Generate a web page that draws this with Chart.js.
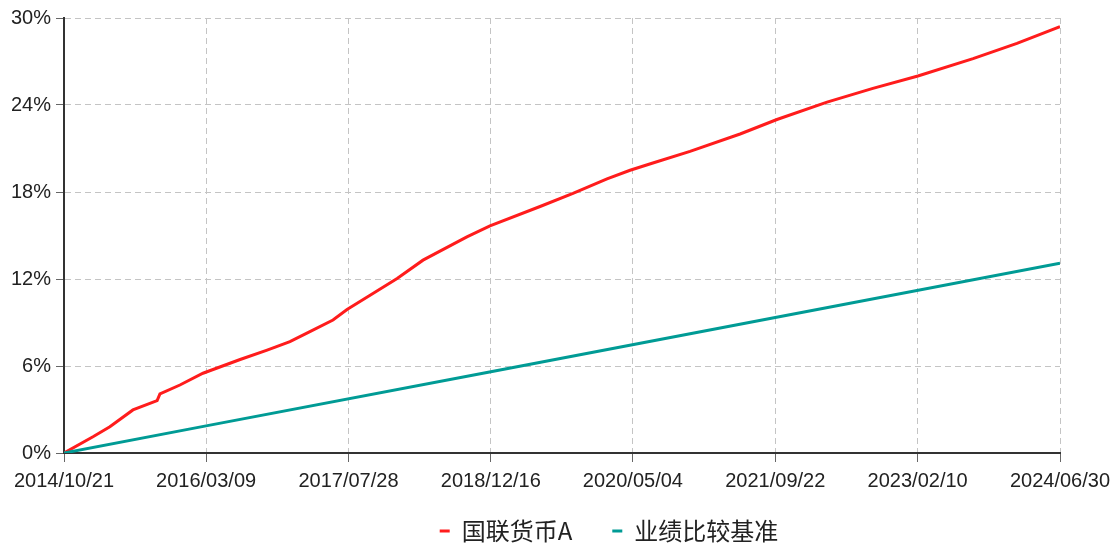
<!DOCTYPE html>
<html>
<head>
<meta charset="utf-8">
<script src="https://cdn.jsdelivr.net/npm/chart.js@4/dist/chart.umd.min.js"></script>
<style>
  html, body { margin: 0; padding: 0; background: #fff; overflow: hidden; }
  #nav-chart { display: block; }
</style>
</head>
<body>
<canvas id="nav-chart" width="1120" height="550"></canvas>
<script>
// 数据
const startDate = '2014/10/21';
const xTickLabels = ['2014/10/21', '2016/03/09', '2017/07/28', '2018/12/16', '2020/05/04', '2021/09/22', '2023/02/10', '2024/06/30'];
const yTickValues = [0, 6, 12, 18, 24, 30];

const fundName = '国联货币A';
const fundDates = ['2014/10/21', '2015/02/01', '2015/04/02', '2015/06/23', '2015/09/17', '2015/09/27', '2015/12/07', '2016/02/27',
    '2016/07/08', '2016/10/12', '2017/01/01', '2017/03/13', '2017/06/03', '2017/07/23', '2017/10/23', '2018/01/17',
    '2018/04/19', '2018/09/22', '2018/12/13', '2019/06/09', '2019/10/04', '2020/02/02', '2020/04/24', '2020/07/14',
    '2020/11/23', '2021/05/20', '2021/09/28', '2022/03/25', '2022/09/04', '2023/02/11', '2023/08/26', '2024/01/29',
    '2024/06/30'];
const fundValues = [0, 1.12, 1.81, 2.97, 3.61, 4.07, 4.69, 5.5,
    6.45, 7.1, 7.68, 8.37, 9.17, 9.9, 11.0, 12.04,
    13.3, 14.9, 15.66, 17.0, 17.9, 18.9, 19.5, 20.0,
    20.8, 22.0, 23.0, 24.2, 25.15, 26.0, 27.2, 28.25,
    29.4];

const benchName = '业绩比较基准';
const benchDates = ['2014/10/21', '2016/03/09', '2018/12/16', '2021/09/22', '2024/06/30'];
const benchValues = [0, 1.87, 5.6, 9.35, 13.08];

// 日期转为距起始日的天数
function toDays(str) {
    const p = str.split('/').map(Number);
    const s = startDate.split('/').map(Number);
    return (Date.UTC(p[0], p[1] - 1, p[2]) - Date.UTC(s[0], s[1] - 1, s[2])) / 86400000;
}

const xTickDays = xTickLabels.map(toDays);
const fundPoints = fundDates.map((d, i) => ({ x: toDays(d), y: fundValues[i] }));
const benchPoints = benchDates.map((d, i) => ({ x: toDays(d), y: benchValues[i] }));

const tickFont = { family: '"Liberation Sans", Arial, sans-serif', size: 20 };
const gridColor = '#c4c4c4';
const axisColor = '#333333';

// 图例位置微调
const legendShift = {
    id: 'legendShift',
    afterLayout(chart) {
        chart.legend.left += 158;
        chart.legend.top -= 29;
        chart.legend.bottom = chart.height;
    }
};

const ctx = document.getElementById('nav-chart').getContext('2d');
new Chart(ctx, {
    type: 'line',
    data: {
        datasets: [{
            label: fundName,
            data: fundPoints,
            borderColor: '#ff1c1c',
            backgroundColor: '#ff1c1c',
            borderWidth: 3,
            pointRadius: 0,
            tension: 0,
            order: 2
        }, {
            label: benchName,
            data: benchPoints,
            borderColor: '#009b95',
            backgroundColor: '#009b95',
            borderWidth: 3,
            pointRadius: 0,
            tension: 0,
            order: 1
        }]
    },
    options: {
        responsive: false,
        animation: false,
        devicePixelRatio: 1,
        layout: { padding: { top: 18, right: 60, left: 0, bottom: 0 } },
        scales: {
            x: {
                type: 'linear',
                min: xTickDays[0],
                max: xTickDays[xTickDays.length - 1],
                afterBuildTicks: function(scale) {
                    scale.ticks = xTickDays.map(v => ({ value: v }));
                },
                afterFit: function(scale) { scale.height = 55; },
                ticks: {
                    autoSkip: false,
                    maxRotation: 0,
                    font: tickFont,
                    color: '#222',
                    padding: 7,
                    callback: function(value, index) { return xTickLabels[index]; }
                },
                grid: {
                    color: gridColor,
                    tickColor: '#666',
                    tickLength: 9,
                    lineWidth: 1
                },
                border: { color: axisColor, width: 2, dash: [6, 4] }
            },
            y: {
                min: 0,
                max: 30,
                afterBuildTicks: function(scale) {
                    scale.ticks = yTickValues.map(v => ({ value: v }));
                },
                afterFit: function(scale) { scale.width = 64; },
                ticks: {
                    font: tickFont,
                    color: '#222',
                    padding: 5,
                    callback: function(value) { return value + '%'; }
                },
                grid: {
                    color: gridColor,
                    tickColor: '#666',
                    tickLength: 8,
                    lineWidth: 1
                },
                border: { color: axisColor, width: 2, dash: [6, 4] }
            }
        },
        plugins: {
            legend: {
                position: 'bottom',
                maxHeight: 42,
                labels: {
                    usePointStyle: true,
                    pointStyle: 'line',
                    pointStyleWidth: 10,
                    boxWidth: 10,
                    boxHeight: 10,
                    padding: 40,
                    color: '#222',
                    font: { family: '"Noto Sans CJK SC", sans-serif', size: 24 },
                    sort: function(a, b) { return a.datasetIndex - b.datasetIndex; }
                }
            },
            tooltip: { enabled: false },
            title: { display: false }
        }
    },
    plugins: [legendShift]
});
</script>
</body>
</html>
